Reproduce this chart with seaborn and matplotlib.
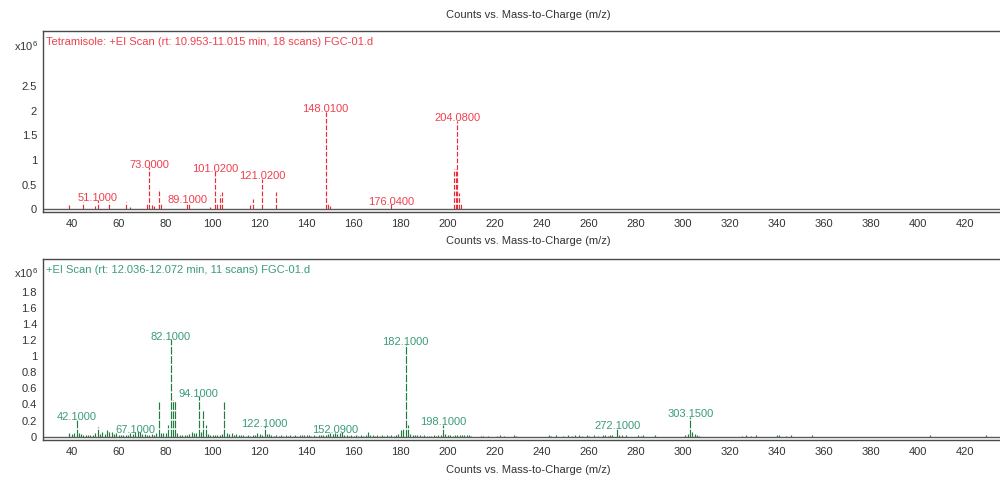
import matplotlib
matplotlib.use("Agg")
import matplotlib.pyplot as plt
import seaborn as sns
import numpy as np

# ---------------- spectrum data (intensities in units of 1e6 counts) ----------------
tet_mz = [39, 45, 50, 51.1, 56, 63, 65, 72, 73.0, 74, 75, 77, 78, 89.1, 90,
          99, 101.02, 102, 103, 104, 116, 117, 121.02, 127,
          148.01, 149, 150, 176.04, 202.7, 203.4, 204.08, 204.9, 205.6]
tet_int = [0.08, 0.15, 0.07, 0.18, 0.15, 0.15, 0.05, 0.10, 0.86, 0.08, 0.06, 0.42, 0.10, 0.15, 0.12,
           0.05, 0.78, 0.12, 0.30, 0.35, 0.08, 0.20, 0.62, 0.35,
           1.98, 0.12, 0.06, 0.10, 0.82, 0.82, 1.80, 0.33, 0.10]
tet_labels = [51.1, 73.0, 89.1, 101.02, 121.02, 148.01, 176.04, 204.08]

ei_mz = [39, 40, 41, 42.1, 43, 44, 45, 46, 47, 48, 49, 50, 51, 52, 53, 54, 55, 56, 57, 58,
         59, 60, 61, 62, 63, 64, 65, 66, 67.1, 68, 69, 70, 71, 72, 73, 74, 75, 76, 77, 78,
         79, 80, 81, 82.1, 83, 84, 85, 86, 87, 88, 89, 90, 91, 92, 93, 94.1, 95, 96, 97, 98,
         99, 100, 101, 102, 103, 104, 105, 106, 107, 108, 109, 110, 111, 112, 113, 114, 115, 116, 117, 118,
         119, 120, 121, 122.1, 123, 124, 125, 126, 127, 128, 129, 130, 131, 132, 133, 134, 135, 136, 137, 138,
         139, 140, 141, 142, 143, 144, 145, 146, 147, 148, 149, 150, 151, 152.09, 153, 154, 155, 156, 157, 158,
         159, 160, 161, 162, 163, 164, 165, 166, 167, 168, 169, 170, 171, 172, 173, 174, 175, 176, 177, 178,
         179, 180, 181, 182.1, 183, 184, 185, 186, 187, 188, 189, 190, 191, 192, 193, 194, 195, 196, 197, 198.1,
         199, 200, 201, 202, 203, 204, 205, 206, 207, 208, 209, 210, 214, 215, 217, 221, 222, 224, 228, 229,
         243, 244, 246, 249, 251, 253, 254, 256, 257, 259, 260, 262, 264, 266, 267, 268, 269, 270, 272.1, 273,
         274, 276, 281, 282, 283, 288, 301, 302, 303.15, 304, 305, 306, 307, 325, 327, 329, 331, 340, 341, 344,
         346, 355, 405, 429]
ei_int = [0.05, 0.03, 0.05, 0.21, 0.04, 0.03, 0.02, 0.015, 0.015, 0.015, 0.02, 0.04, 0.12, 0.03, 0.06, 0.03, 0.08, 0.06, 0.06, 0.03,
          0.05, 0.02, 0.015, 0.015, 0.02, 0.02, 0.04, 0.03, 0.06, 0.07, 0.06, 0.03, 0.03, 0.02, 0.02, 0.03, 0.025, 0.04, 0.43, 0.05,
          0.05, 0.05, 0.14, 1.21, 0.46, 0.44, 0.05, 0.02, 0.02, 0.015, 0.02, 0.03, 0.06, 0.04, 0.05, 0.50, 0.06, 0.33, 0.15, 0.03,
          0.02, 0.02, 0.015, 0.02, 0.02, 0.03, 0.43, 0.05, 0.03, 0.05, 0.02, 0.03, 0.02, 0.015, 0.015, 0.01, 0.015, 0.01, 0.015, 0.02,
          0.05, 0.03, 0.02, 0.13, 0.03, 0.03, 0.015, 0.01, 0.015, 0.01, 0.015, 0.01, 0.015, 0.01, 0.015, 0.01, 0.015, 0.01, 0.02, 0.015,
          0.02, 0.015, 0.02, 0.01, 0.015, 0.01, 0.02, 0.015, 0.02, 0.015, 0.03, 0.04, 0.03, 0.05, 0.03, 0.04, 0.06, 0.02, 0.015, 0.01,
          0.015, 0.01, 0.015, 0.01, 0.015, 0.01, 0.015, 0.06, 0.02, 0.015, 0.01, 0.015, 0.01, 0.015, 0.01, 0.015, 0.01, 0.015, 0.01, 0.02,
          0.03, 0.08, 0.10, 1.15, 0.15, 0.03, 0.015, 0.02, 0.015, 0.015, 0.01, 0.015, 0.01, 0.01, 0.01, 0.015, 0.01, 0.015, 0.02, 0.15,
          0.03, 0.02, 0.015, 0.01, 0.015, 0.02, 0.02, 0.015, 0.02, 0.015, 0.015, 0.01, 0.01, 0.01, 0.01, 0.01, 0.015, 0.01, 0.015, 0.01,
          0.015, 0.01, 0.015, 0.01, 0.015, 0.01, 0.015, 0.015, 0.01, 0.015, 0.01, 0.015, 0.01, 0.015, 0.02, 0.01, 0.015, 0.02, 0.11, 0.02,
          0.015, 0.015, 0.015, 0.01, 0.015, 0.015, 0.02, 0.03, 0.25, 0.06, 0.03, 0.015, 0.01, 0.01, 0.015, 0.01, 0.015, 0.015, 0.02, 0.01,
          0.015, 0.015, 0.015, 0.015]
ei_labels = [42.1, 67.1, 82.1, 94.1, 122.1, 152.09, 182.1, 198.1, 272.1, 303.15]

x_ticks = list(range(40, 421, 20))
tet_yticks = [0, 0.5, 1, 1.5, 2, 2.5, 3]
tet_yticklabels = ["0", "0.5", "1", "1.5", "2", "2.5", ""]
ei_yticks = [0, 0.2, 0.4, 0.6, 0.8, 1, 1.2, 1.4, 1.6, 1.8]
ei_yticklabels = ["0", "0.2", "0.4", "0.6", "0.8", "1", "1.2", "1.4", "1.6", "1.8"]

tet_title = "Tetramisole: +EI Scan (rt: 10.953-11.015 min, 18 scans) FGC-01.d"
ei_title = "+EI Scan (rt: 12.036-12.072 min, 11 scans) FGC-01.d"
x_caption = "Counts vs. Mass-to-Charge (m/z)"

# ---------------- styling ----------------
sns.set_theme(style="white")
plt.rcParams["font.family"] = ["Liberation Sans", "DejaVu Sans"]
plt.rcParams["mathtext.fontset"] = "custom"
plt.rcParams["mathtext.rm"] = "Liberation Sans"

RED_LINE, RED_TEXT = "#ee2a36", "#f0404e"
GREEN_LINE, GREEN_TEXT = "#1f7d40", "#3a9c78"
AXIS = "#4a4a4a"
TEXT = "#333333"
FS = 8

W, H = 1000, 478
fig = plt.figure(figsize=(W / 100, H / 100), dpi=100)


def px_axes(left, top, right, bottom):
    return fig.add_axes([left / W, 1 - bottom / H, (right - left) / W, (bottom - top) / H])


ax1 = px_axes(43, 31, 1013, 212)
ax2 = px_axes(43, 258.5, 1013, 440)

XLIM = (27.8, 27.8 + 970 / 2.3508)


def draw_panel(ax, mz, inten, labels, line_c, text_c, dash, lw, ylim, yticks, yticklabels, title, title_y):
    ax.set_xlim(*XLIM)
    ax.set_ylim(*ylim)
    ax.vlines(mz, 0, inten, colors=line_c, linestyles=[dash], linewidth=lw)
    lookup = dict(zip(mz, inten))
    for m in labels:
        ax.annotate(f"{m:.4f}", (m, lookup[m]), xytext=(0, -0.5), textcoords="offset points",
                    ha="center", va="baseline", fontsize=FS, color=text_c)
    ax.axhline(0, color="#5a5a5a", linewidth=1.0)
    ax.set_xticks(x_ticks)
    ax.set_xticklabels([str(t) for t in x_ticks])
    ax.set_yticks(yticks)
    ax.set_yticklabels(yticklabels)
    ax.tick_params(axis="both", direction="out", length=3.8, width=0.8, color=AXIS,
                   labelsize=FS, labelcolor=TEXT, pad=1.5)
    ax.tick_params(axis="y", pad=0.5)
    for side in ("top", "left", "bottom"):
        ax.spines[side].set_color(AXIS)
        ax.spines[side].set_linewidth(1.0)
    ax.spines["right"].set_visible(False)
    ax.text(0.0035, title_y, title, transform=ax.transAxes, ha="left", va="center",
            fontsize=FS, color=text_c)
    ax.set_xlabel("")
    ax.set_ylabel("")
    ax.grid(False)


draw_panel(ax1, tet_mz, tet_int, tet_labels, RED_LINE, RED_TEXT, (0, (4.0, 1.6)), 0.85,
           (-0.055, 3.617), tet_yticks, tet_yticklabels, tet_title, 1 - 11 / 181)
draw_panel(ax2, ei_mz, ei_int, ei_labels, GREEN_LINE, GREEN_TEXT, (0, (6.5, 1.3)), 0.85,
           (-0.041, 2.212), ei_yticks, ei_yticklabels, ei_title, 1 - 11.5 / 181.5)

# axis captions and scale factors
fig.text(528 / W, 1 - 15 / H, x_caption, ha="center", va="center", fontsize=FS, color=TEXT)
fig.text(528 / W, 1 - 241 / H, x_caption, ha="center", va="center", fontsize=FS, color=TEXT)
fig.text(528 / W, 1 - 470 / H, x_caption, ha="center", va="center", fontsize=FS, color=TEXT)
fig.text(14 / W, 1 - 46 / H, r"x10$^{6}$", ha="left", va="center", fontsize=FS, color=TEXT)
fig.text(14 / W, 1 - 273 / H, r"x10$^{6}$", ha="left", va="center", fontsize=FS, color=TEXT)

fig.savefig("out.png", dpi=100, facecolor="white")
